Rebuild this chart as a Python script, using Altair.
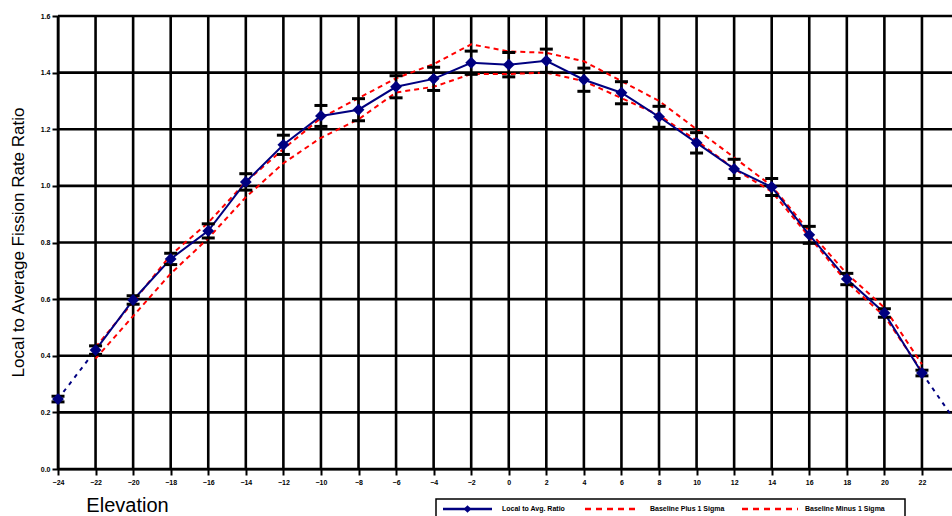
import altair as alt
import pandas as pd

# ---- data ----
elevation = [-24, -22, -20, -18, -16, -14, -12, -10, -8, -6, -4, -2, 0, 2, 4, 6, 8, 10, 12, 14, 16, 18, 20, 22]
ratio = [0.247, 0.420, 0.597, 0.742, 0.841, 1.014, 1.145, 1.247, 1.269, 1.350, 1.378, 1.435,
         1.428, 1.442, 1.375, 1.329, 1.244, 1.152, 1.060, 0.996, 0.827, 0.671, 0.551, 0.339]
error = [0.010, 0.015, 0.015, 0.020, 0.025, 0.029, 0.034, 0.037, 0.039, 0.039, 0.041, 0.041,
         0.043, 0.041, 0.041, 0.039, 0.037, 0.036, 0.034, 0.030, 0.030, 0.020, 0.015, 0.010]
plus_sigma = [None, 0.430, 0.590, 0.756, 0.870, 1.014, 1.130, 1.240, 1.310, 1.380, 1.430, 1.500,
              1.475, 1.470, 1.440, 1.370, 1.300, 1.200, 1.100, 1.000, 0.840, 0.690, 0.570, 0.370]
minus_sigma = [None, 0.390, 0.540, 0.690, 0.815, 0.960, 1.080, 1.170, 1.235, 1.330, 1.350, 1.395,
               1.395, 1.400, 1.370, 1.310, 1.250, 1.160, 1.060, 0.980, 0.820, 0.660, 0.540, 0.345]
# dashed blue continuation at both ends
ext_elev = [-24, -22, 22, 24]
ext_ratio = [0.247, 0.420, 0.339, 0.148]
ext_seg = ["left", "left", "right", "right"]
y_ticks = [0.0, 0.2, 0.4, 0.6, 0.8, 1.0, 1.2, 1.4, 1.6]
series_names = ["Local to Avg. Ratio", "Baseline Plus 1 Sigma", "Baseline Minus 1 Sigma"]

S_MEAS, S_PLUS, S_MINUS = series_names
NAVY, RED = "#000080", "#FF0000"

meas = pd.DataFrame({"elev": elevation, "val": ratio, "err": error})
meas["lo"] = meas["val"] - meas["err"]
meas["hi"] = meas["val"] + meas["err"]
meas_line = meas[meas["elev"] >= -22]

rows = []
for e, p, m in zip(elevation, plus_sigma, minus_sigma):
    if p is not None:
        rows.append({"elev": e, "val": p, "series": S_PLUS})
    if m is not None:
        rows.append({"elev": e, "val": m, "series": S_MINUS})
sigma = pd.DataFrame(rows)
ext = pd.DataFrame({"elev": ext_elev, "val": ext_ratio, "seg": ext_seg})
xgrid = pd.DataFrame({"elev": elevation})
ygrid = pd.DataFrame({"val": y_ticks})

FONT = "Liberation Sans"
W, H = 894, 453
xs = alt.Scale(domain=[-24, 23.6], nice=False, zero=False)
ys = alt.Scale(domain=[0, 1.6], nice=False, zero=False)

x_axis = alt.Axis(
    values=elevation, format="d", title="Elevation", titleX=69, titleY=36,
    titleAlign="center", titleBaseline="middle", titleFontSize=20,
    titleFontWeight="normal", titleFont=FONT,
    labelFontSize=7, labelFontWeight="bold", labelFont=FONT, labelPadding=3,
    tickSize=6, labelFlush=False, grid=False)
y_axis = alt.Axis(
    values=y_ticks, format=".1f", title="Local to Average Fission Rate Ratio",
    titleX=-40, titleY=226, titleAngle=270, titleAlign="center", titleBaseline="middle",
    titleFontSize=17, titleFontWeight="normal", titleFont=FONT,
    labelFontSize=7, labelFontWeight="bold", labelFont=FONT, labelPadding=2, tickSize=6,
    grid=False)

X = alt.X("elev:Q", scale=xs, axis=x_axis)
def Y(field):
    return alt.Y(f"{field}:Q", scale=ys, axis=y_axis)

layers = []
# grid lines drawn from the tick lists
layers.append(alt.Chart(xgrid).mark_rule(color="black", strokeWidth=2.6).encode(
    x=X, y=alt.value(0), y2=alt.value(H)))
layers.append(alt.Chart(ygrid).mark_rule(color="black", strokeWidth=2.6).encode(
    y=Y("val"), x=alt.value(0), x2=alt.value(W)))
# sigma bands (red dashed)
layers.append(alt.Chart(sigma).mark_line(strokeWidth=2, color=RED, strokeDash=[5, 4]).encode(
    x=X, y=Y("val"), detail="series:N"))
# dashed blue continuation
layers.append(alt.Chart(ext).mark_line(strokeWidth=2, color=NAVY, strokeDash=[4, 5], clip=True).encode(
    x=X, y=Y("val"), detail="seg:N"))
# measured line
layers.append(alt.Chart(meas_line).mark_line(strokeWidth=2, color=NAVY).encode(x=X, y=Y("val")))
# error bars
layers.append(alt.Chart(meas).mark_rule(color="black", strokeWidth=2, opacity=1).encode(
    x=X, y=Y("lo"), y2="hi:Q"))
for f in ["hi", "lo"]:
    layers.append(alt.Chart(meas).mark_tick(color="black", thickness=3, size=13,
                                            orient="horizontal", opacity=1).encode(x=X, y=Y(f)))
# markers
layers.append(alt.Chart(meas).mark_point(shape="diamond", filled=True, size=140,
                                         color=NAVY, opacity=1).encode(x=X, y=Y("val")))

# ---- legend box (bottom, partly cut by the page edge as in the reference) ----
one = pd.DataFrame({"k": [0]})
LY = 493
layers.append(alt.Chart(one).mark_rect(fill="white", stroke="black", strokeWidth=1.5).encode(
    x=alt.value(378), x2=alt.value(847), y=alt.value(483), y2=alt.value(510)))
sym_pos = [(385, 434), (527, 582), (684, 740)]
txt_pos = [444, 592, 747]
for name, (a, b), t in zip(series_names, sym_pos, txt_pos):
    if name == S_MEAS:
        layers.append(alt.Chart(one).mark_rule(color=NAVY, strokeWidth=2.5).encode(
            x=alt.value(a), x2=alt.value(b), y=alt.value(LY)))
        layers.append(alt.Chart(one).mark_point(shape="diamond", filled=True, size=60,
                                                color=NAVY, opacity=1).encode(
            x=alt.value((a + b) / 2), y=alt.value(LY)))
    else:
        layers.append(alt.Chart(one).mark_rule(color=RED, strokeWidth=2.5, strokeDash=[6, 5]).encode(
            x=alt.value(a), x2=alt.value(b), y=alt.value(LY)))
    layers.append(alt.Chart(one).mark_text(align="left", baseline="middle", fontSize=7,
                                           fontWeight="bold", font=FONT, color="black").encode(
        x=alt.value(t), y=alt.value(LY), text=alt.value(name)))

chart = alt.layer(*layers).properties(
    width=W, height=H,
    autosize=alt.AutoSizeParams(type="none"),
    padding={"left": 58, "top": 16, "right": 0, "bottom": 47},
    background="white",
).configure_view(stroke=None).configure_axis(
    grid=False, domainColor="black", domainWidth=2, tickColor="black", tickWidth=2,
    labelColor="black", titleColor="black")

chart.save("out.html", embed_options={"renderer": "svg", "actions": False})
